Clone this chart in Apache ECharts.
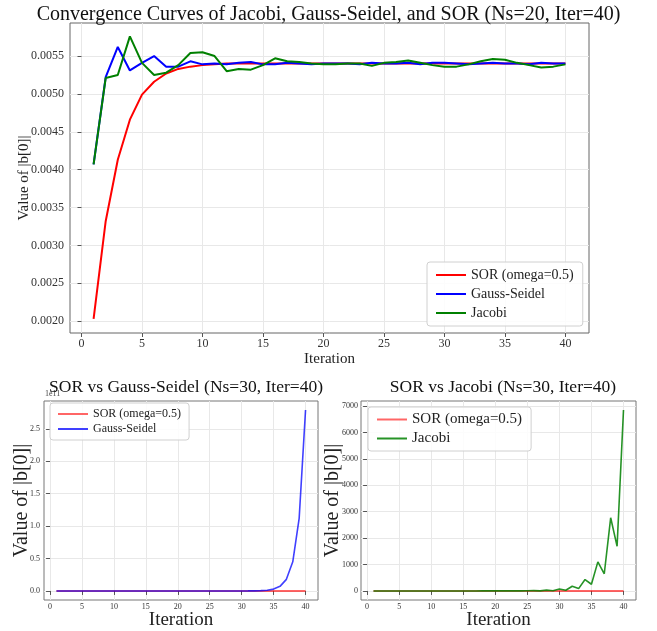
<!DOCTYPE html>
<html>
<head>
<meta charset="utf-8">
<script src="https://cdn.jsdelivr.net/npm/echarts@6/dist/echarts.min.js"></script>
<style>
  html, body { margin: 0; padding: 0; background: #fff; }
  #chart { width: 657px; height: 631px; }
</style>
</head>
<body>
<div id="chart"></div>
<script>
// iteration numbers 1..40
const iterations = Array.from({ length: 40 }, (_, i) => i + 1)

// Ns=20 run (top)
const sor20 = [0.00203, 0.00332, 0.00413, 0.00466, 0.00499, 0.00516, 0.00527, 0.00533, 0.00536, 0.00538,
  0.00539, 0.00540, 0.00540, 0.00540, 0.00540, 0.00540, 0.00540, 0.00540, 0.00540, 0.00540,
  0.00540, 0.00540, 0.00540, 0.00540, 0.00540, 0.00540, 0.00540, 0.00540, 0.00540, 0.00540,
  0.00540, 0.00540, 0.00540, 0.00540, 0.00540, 0.00540, 0.00540, 0.00540, 0.00540, 0.00540]
const gs20 = [0.00407, 0.00522, 0.00562, 0.00531, 0.00541, 0.00550, 0.00536, 0.00536, 0.00543, 0.00539,
  0.00540, 0.00539, 0.00541, 0.00542, 0.00539, 0.00539, 0.00541, 0.00540, 0.00539, 0.00540,
  0.00540, 0.00540, 0.00539, 0.00541, 0.00540, 0.00540, 0.00541, 0.00539, 0.00541, 0.00541,
  0.00540, 0.00539, 0.00540, 0.00541, 0.00540, 0.00540, 0.00539, 0.00541, 0.00540, 0.00540]
const jacobi20 = [0.00407, 0.00521, 0.00525, 0.00576, 0.00541, 0.00525, 0.00528, 0.00538, 0.00554, 0.00555,
  0.00550, 0.00530, 0.00533, 0.00532, 0.00538, 0.00547, 0.00543, 0.00542, 0.00540, 0.00539,
  0.00539, 0.00540, 0.00540, 0.00537, 0.00541, 0.00542, 0.00544, 0.00541, 0.00538, 0.00536,
  0.00536, 0.00539, 0.00543, 0.00546, 0.00545, 0.00541, 0.00538, 0.00535, 0.00536, 0.00539]

// Ns=30 runs (bottom)
const sor30 = [0.00150, 0.00250, 0.00320, 0.00370, 0.00405, 0.00430, 0.00448, 0.00460, 0.00468, 0.00474,
  0.00478, 0.00481, 0.00483, 0.00484, 0.00485, 0.00486, 0.00486, 0.00487, 0.00487, 0.00487,
  0.00487, 0.00487, 0.00487, 0.00487, 0.00487, 0.00487, 0.00487, 0.00487, 0.00487, 0.00487,
  0.00487, 0.00487, 0.00487, 0.00487, 0.00487, 0.00487, 0.00487, 0.00487, 0.00487, 0.00487]
const gs30 = [0.0041, 0.0052, 0.0056, 0.0053, 0.0055, 0.0061, 0.0089, 0.017, 0.13, 0.32,
  0.80, 2.0, 5.0, 12.6, 31, 79, 196, 490, 1200, 3100,
  7700, 19000, 48000, 120000, 300000, 750000, 1870000, 4700000, 11700000, 29000000,
  73000000, 183000000, 460000000, 1140000000, 2860000000, 7100000000, 17900000000, 45000000000, 112000000000, 279000000000]
const jacobi30 = [0.0041, 0.0052, 0.0053, 0.0058, 0.0054, 0.0055, 0.006, 0.008, 0.012, 0.02,
  0.03, 0.05, 0.08, 0.12, 0.2, 0.3, 0.5, 0.8, 1.2, 1.5,
  1, 2, 2, 4, 5, 12, 4, 30, 8, 76,
  25, 177, 88, 430, 253, 1100, 650, 2770, 1690, 6850]

const yTicksTop = [0.0020, 0.0025, 0.0030, 0.0035, 0.0040, 0.0045, 0.0050, 0.0055]
const yTicksGs = [0, 0.5e11, 1.0e11, 1.5e11, 2.0e11, 2.5e11]
const yTicksJac = [0, 1000, 2000, 3000, 4000, 5000, 6000, 7000]
const xTicks = [0, 5, 10, 15, 20, 25, 30, 35, 40]

const SERIF = 'Liberation Serif'
const pairs = arr => arr.map((v, i) => [iterations[i], v])
const legendNames = { sorTop: 'SOR (omega=0.5)', sorGs: 'SOR (omega=0.5)', sorJac: 'SOR (omega=0.5)' }

function xAxis(gridIndex, fontSize, margin, name, nameSize, nameGap) {
  return {
    type: 'value', gridIndex, min: -0.95, max: 41.95,
    axisLine: { show: false },
    axisTick: { show: true, length: 4, lineStyle: { color: '#555' }, customValues: xTicks },
    axisLabel: { customValues: xTicks, fontFamily: SERIF, fontSize, color: '#333', margin },
    splitLine: { show: true, lineStyle: { color: '#e8e8e8', width: 1 } },
    name, nameLocation: 'middle', nameGap, nameMoveOverlap: false,
    nameTextStyle: { fontFamily: SERIF, fontSize: nameSize, color: '#222' }
  }
}

function yAxis(gridIndex, min, max, ticks, fmt, fontSize, margin, nameSize, nameGap) {
  return {
    type: 'value', gridIndex, min, max,
    axisLine: { show: false },
    axisTick: { show: true, length: 4, lineStyle: { color: '#555' }, customValues: ticks },
    axisLabel: { customValues: ticks, formatter: fmt, fontFamily: SERIF, fontSize, color: '#333', margin },
    splitLine: { show: true, lineStyle: { color: '#e8e8e8', width: 1 } },
    name: 'Value of |b[0]|', nameLocation: 'middle', nameGap, nameMoveOverlap: false,
    nameTextStyle: { fontFamily: SERIF, fontSize: nameSize, color: '#222' }
  }
}

function line(name, data, xi, color, width, opacity) {
  return {
    name, type: 'line', xAxisIndex: xi, yAxisIndex: xi, data: pairs(data),
    symbol: 'none', animation: false,
    lineStyle: { color, width, opacity },
    itemStyle: { color, opacity }
  }
}

function legend(names, left, top, fontSize, gap, padding) {
  return {
    data: names, left, top, orient: 'vertical',
    icon: 'rect', itemWidth: 30, itemHeight: 2, itemGap: gap,
    padding, borderColor: '#d0d0d0', borderWidth: 1, borderRadius: 3,
    backgroundColor: 'rgba(255,255,255,0.85)',
    textStyle: { fontFamily: SERIF, fontSize, color: '#222' },
    formatter: n => legendNames[n] || n
  }
}

const chart = echarts.init(document.getElementById('chart'), null, { renderer: 'canvas' })
chart.setOption({
  backgroundColor: '#fff',
  animation: false,
  title: [
    { text: 'Convergence Curves of Jacobi, Gauss-Seidel, and SOR (Ns=20, Iter=40)', left: 'center', top: 0,
      textStyle: { fontFamily: SERIF, fontSize: 20, fontWeight: 'normal', color: '#111' } },
    { text: 'SOR vs Gauss-Seidel (Ns=30, Iter=40)', left: 181, top: 373, textAlign: 'center',
      textStyle: { fontFamily: SERIF, fontSize: 17.5, fontWeight: 'normal', color: '#111' } },
    { text: 'SOR vs Jacobi (Ns=30, Iter=40)', left: 498, top: 373, textAlign: 'center',
      textStyle: { fontFamily: SERIF, fontSize: 17.5, fontWeight: 'normal', color: '#111' } }
  ],
  grid: [
    { left: 70, right: 68, top: 23, height: 310, show: true, borderColor: '#666', borderWidth: 1 },
    { left: 44, right: 339, top: 401, height: 199, show: true, borderColor: '#777', borderWidth: 1 },
    { left: 361, right: 21, top: 401, height: 199, show: true, borderColor: '#777', borderWidth: 1 }
  ],
  xAxis: [
    xAxis(0, 12, 5, 'Iteration', 15, 19),
    xAxis(1, 8, 3, 'Iteration', 19, 11),
    xAxis(2, 8, 3, 'Iteration', 19, 11)
  ],
  yAxis: [
    yAxis(0, 0.001844, 0.005936, yTicksTop, v => v.toFixed(4), 12, 6, 15, 38),
    yAxis(1, -0.1395e11, 2.9295e11, yTicksGs, v => (v / 1e11).toFixed(1), 8, 4, 20, 12),
    yAxis(2, -343, 7193, yTicksJac, v => String(Math.round(v)), 8, 3, 20, 18)
  ],
  legend: [
    legend(['sorTop', 'Gauss-Seidel', 'Jacobi'], 427, 262, 14, 5, [6, 9, 6, 9]),
    legend(['sorGs', 'Gauss-Seidel '], 50, 403, 12, 3, [5, 8, 5, 8]),
    legend(['sorJac', 'Jacobi '], 368, 407, 15, 4, [5, 9, 5, 9])
  ],
  graphic: [
    { type: 'text', left: 45, top: 390, style: { text: '1e11', fontFamily: SERIF, fontSize: 8, fill: '#444' } }
  ],
  series: [
    line('sorTop', sor20, 0, '#ff0000', 2, 1),
    line('Gauss-Seidel', gs20, 0, '#0000ff', 2, 1),
    line('Jacobi', jacobi20, 0, '#008000', 2, 1),
    line('sorGs', sor30, 1, '#ff0000', 2, 0.6),
    line('Gauss-Seidel ', gs30, 1, '#0000ff', 1.6, 0.75),
    line('sorJac', sor30, 2, '#ff0000', 2, 0.6),
    line('Jacobi ', jacobi30, 2, '#008000', 1.6, 0.85)
  ]
})
</script>
</body>
</html>
